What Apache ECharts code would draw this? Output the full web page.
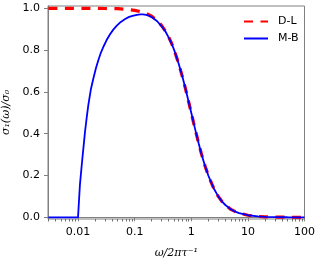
<!DOCTYPE html>
<html>
<head>
<meta charset="utf-8">
<script src="https://cdn.jsdelivr.net/npm/echarts@6/dist/echarts.min.js"></script>
<style>html,body{margin:0;padding:0;background:#fff;}#c{width:321px;height:260px;}</style>
</head>
<body>
<div id="c"></div>
<script>
// Drude-Lorentz curve
const dlX = [0.003, 0.01, 0.02, 0.03, 0.05, 0.07, 0.1, 0.13, 0.17, 0.2, 0.25, 0.3, 0.35, 0.4, 0.45, 0.5, 0.6, 0.7, 0.8, 0.9, 1, 1.1, 1.2, 1.35, 1.5, 1.75, 2, 2.5, 3, 3.5, 4, 5, 6, 7, 10, 15, 20, 30, 50, 100];
const dlY = [1.0, 1.0, 1.0, 0.999, 0.998, 0.995, 0.99, 0.983, 0.972, 0.962, 0.941, 0.917, 0.891, 0.862, 0.832, 0.80, 0.735, 0.671, 0.61, 0.552, 0.50, 0.452, 0.41, 0.354, 0.307, 0.246, 0.20, 0.138, 0.10, 0.075, 0.059, 0.038, 0.027, 0.02, 0.01, 0.0044, 0.0025, 0.0011, 0.0004, 0.0001];
// Mattis-Bardeen curve
const mbX = [0.003, 0.01, 0.0108, 0.0115, 0.0121, 0.0133, 0.0142, 0.0152, 0.0168, 0.0187, 0.0207, 0.0229, 0.0253, 0.0281, 0.032, 0.0368, 0.042, 0.0484, 0.057, 0.0679, 0.08, 0.0953, 0.11, 0.125, 0.14, 0.16, 0.18, 0.2, 0.25, 0.3, 0.35, 0.4, 0.45, 0.5, 0.6, 0.7, 0.8, 0.9, 1, 1.1, 1.2, 1.35, 1.5, 1.75, 2, 2.5, 3, 3.5, 4, 5, 6, 7, 10, 15, 20, 30, 50, 100];
const mbY = [0, 0, 0.155, 0.235, 0.298, 0.41, 0.475, 0.537, 0.61, 0.665, 0.713, 0.753, 0.787, 0.816, 0.848, 0.876, 0.898, 0.917, 0.935, 0.949, 0.959, 0.965, 0.969, 0.971, 0.971, 0.968, 0.964, 0.958, 0.938, 0.914, 0.889, 0.86, 0.831, 0.80, 0.735, 0.671, 0.61, 0.552, 0.50, 0.452, 0.41, 0.354, 0.307, 0.246, 0.20, 0.138, 0.10, 0.075, 0.059, 0.038, 0.027, 0.02, 0.01, 0.0044, 0.0025, 0.0011, 0.0004, 0.0001];
const xTicks = [0.01, 0.1, 1, 10, 100];
const xTickLabels = ['0.01', '0.1', '1', '10', '100'];
const xMinorTicks = [0.003,0.004,0.005,0.006,0.007,0.008,0.009,0.02,0.03,0.04,0.05,0.06,0.07,0.08,0.09,0.2,0.3,0.4,0.5,0.6,0.7,0.8,0.9,2,3,4,5,6,7,8,9,20,30,40,50,60,70,80,90];
const yTicks = [0, 0.2, 0.4, 0.6, 0.8, 1.0];
const yTickLabels = ['0.0', '0.2', '0.4', '0.6', '0.8', '1.0'];

const spine = '#808080';
const chart = echarts.init(document.getElementById('c'), null, {renderer: 'canvas'});
chart.setOption({
  animation: false,
  backgroundColor: '#fff',
  grid: {left: 48, right: 16.5, top: 6, height: 213, show: true, borderColor: spine, borderWidth: 1,
    backgroundColor: 'transparent', containLabel: false, outerBoundsMode: 'none'},
  legend: {
    orient: 'vertical', left: 243, top: 16, padding: 0, itemWidth: 24, itemHeight: 8, itemGap: 6,
    itemStyle: {opacity: 0},
    textStyle: {fontFamily: 'DejaVu Sans', fontSize: 11, color: '#000', padding: [0, 0, 0, 5]},
    data: ['D-L', 'M-B']
  },
  xAxis: [{
    type: 'log', min: 0.00295, max: 100, position: 'bottom',
    name: 'ω/2πτ⁻¹', nameLocation: 'middle', nameGap: 29,
    nameTextStyle: {fontFamily: 'DejaVu Serif', fontStyle: 'italic', fontSize: 11, color: '#000'},
    axisLine: {show: true, lineStyle: {color: spine, width: 1}},
    axisTick: {show: true, length: 4, lineStyle: {color: spine}, customValues: xTicks},
    axisLabel: {fontFamily: 'DejaVu Sans', fontSize: 11, color: '#000', margin: 8, customValues: xTicks,
      formatter: v => { const i = xTicks.findIndex(t => Math.abs(Math.log10(t) - Math.log10(v)) < 1e-6); return i >= 0 ? xTickLabels[i] : ''; }},
    splitLine: {show: false}
  }, {
    // minor ticks: top-positioned axis shifted down onto the bottom spine
    type: 'log', min: 0.00295, max: 100, position: 'top', offset: -213, gridIndex: 0,
    axisLine: {show: false},
    axisTick: {show: true, inside: true, length: 2.5, lineStyle: {color: '#707070'}, customValues: xMinorTicks},
    axisLabel: {show: false},
    splitLine: {show: false}
  }],
  yAxis: {
    type: 'value', min: -0.008, max: 1.011,
    name: 'σ₁(ω)/σ₀', nameLocation: 'middle', nameGap: 25, nameRotate: 90,
    nameTextStyle: {fontFamily: 'DejaVu Serif', fontStyle: 'italic', fontSize: 11, color: '#000'},
    axisLine: {show: true, lineStyle: {color: spine, width: 1}},
    axisTick: {show: true, length: 4, lineStyle: {color: spine}, customValues: yTicks},
    axisLabel: {fontFamily: 'DejaVu Sans', fontSize: 11, color: '#000', margin: 8, customValues: yTicks,
      formatter: v => { const i = yTicks.findIndex(t => Math.abs(t - v) < 1e-6); return i >= 0 ? yTickLabels[i] : ''; }},
    splitLine: {show: false}
  },
  series: [{
    name: 'D-L', type: 'line', xAxisIndex: 0, symbol: 'none', smooth: false,
    data: dlX.map((x, i) => [x, dlY[i]]),
    lineStyle: {color: '#ff0000', width: 3.2, type: [9, 7.5]},
    itemStyle: {color: '#ff0000'}
  }, {
    name: 'M-B', type: 'line', xAxisIndex: 0, symbol: 'none', smooth: false,
    data: mbX.map((x, i) => [x, mbY[i]]),
    lineStyle: {color: '#0000ff', width: 1.8},
    itemStyle: {color: '#0000ff'}
  }, {
    name: 'minor', type: 'line', xAxisIndex: 1, symbol: 'none', data: [], silent: true
  }]
});
</script>
</body>
</html>
